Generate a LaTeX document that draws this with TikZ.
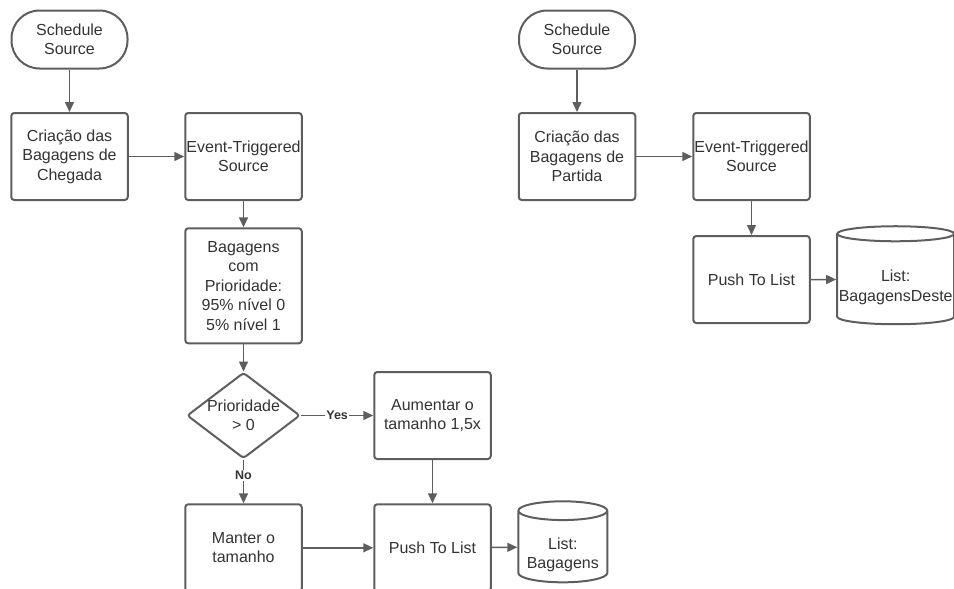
\documentclass[tikz,border=0pt]{standalone}
\usepackage{fontspec}
\setmainfont{Liberation Sans}
\usetikzlibrary{shapes.geometric,arrows.meta}
\definecolor{linegray}{HTML}{5E5E5E}
\definecolor{textgray}{HTML}{333333}
\newcommand{\lowtext}[1]{\raisebox{-8pt}[\height][\depth]{\begin{tabular}{@{}c@{}}#1\end{tabular}}}
\begin{document}
\begin{tikzpicture}[x=1pt, y=-1pt,
font=\fontsize{16}{19.5}\selectfont,
every node/.style={text=textgray, align=center},
terminal/.style={rectangle, rounded corners=28pt, draw=linegray, line width=2pt, minimum width=116pt, minimum height=58pt, inner sep=0pt},
process/.style={rectangle, rounded corners=3pt, draw=linegray, line width=2pt, minimum width=116.5pt, minimum height=87pt, inner sep=0pt},
decision/.style={diamond, rounded corners=3pt, draw=linegray, line width=2pt, minimum width=113pt, minimum height=86pt, aspect=1.31, inner sep=-2pt},
store/.style={cylinder, shape border rotate=90, draw=linegray, line width=2pt, inner sep=0pt},
flow/.style={draw=linegray, line width=1.5pt, -{Triangle[length=10pt, width=9pt]}},
answer/.style={font=\bfseries\fontsize{12.5}{14}\selectfont, fill=white, inner sep=1pt},
]
\useasboundingbox (0,0) rectangle (954,589);

% chegada
\node[terminal] (schedA) at (69.5,39.5) {Schedule\\Source};
\node[process] (createA) at (69.5,156.5) {Criação das\\Bagagens de\\Chegada};
\node[process] (eventA) at (243.5,156.5) {Event-Triggered\\Source};
\node[process, minimum height=115pt] (prior) at (243.5,285.8) {Bagagens\\com\\Prioridade:\\95\% nível 0\\5\% nível 1};
\node[decision] (check) at (243.5,415.5) {Prioridade\\> 0};
\node[process] (grow) at (432.5,415.5) {Aumentar o\\tamanho 1,5x};
\node[process] (keep) at (243.5,547.8) {Manter o\\tamanho};
\node[process] (pushA) at (432.5,547.8) {Push To List};
\node[store, minimum width=89pt, minimum height=81pt, aspect=0.26] (listA) at (562.8,547) {\lowtext{List:\\Bagagens}};

% partida
\node[terminal] (schedB) at (577,39.5) {Schedule\\Source};
\node[process] (createB) at (577,156.5) {Criação das\\Bagagens de\\Partida};
\node[process] (eventB) at (751.5,156.5) {Event-Triggered\\Source};
\node[process] (pushB) at (751.5,279.5) {Push To List};
\node[store, minimum width=117pt, minimum height=98pt, aspect=0.132] (listB) at (895.7,279.5) {\lowtext{List:\\BagagensDeste}};

\draw[flow] (schedA) -- (createA);
\draw[flow] (createA) -- (eventA);
\draw[flow] (eventA) -- (prior);
\draw[flow] (prior) -- (check);
\draw[flow] (check) -- node[answer] {Yes} (grow);
\draw[flow] (check) -- node[answer, pos=0.37] {No} (keep);
\draw[flow] (grow) -- (pushA);
\draw[flow] (keep) -- (pushA);
\draw[flow] (pushA) -- (listA);

\draw[flow] (schedB) -- (createB);
\draw[flow] (createB) -- (eventB);
\draw[flow] (eventB) -- (pushB);
\draw[flow] (pushB) -- (listB);
\end{tikzpicture}
\end{document}
